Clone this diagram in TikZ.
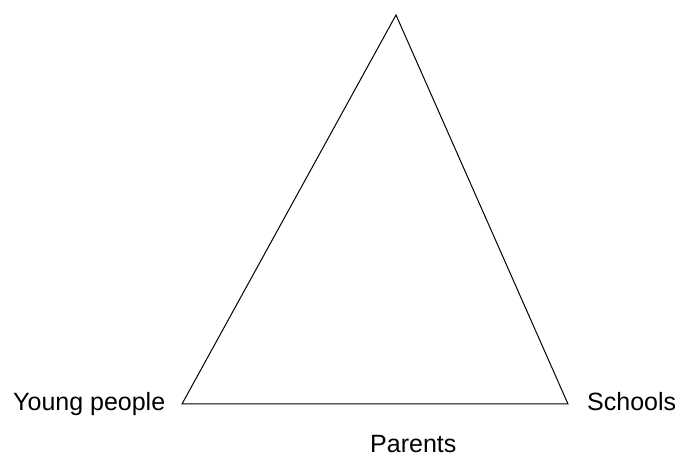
\documentclass[tikz,border=0pt]{standalone}
\usepackage{fontspec}
\setmainfont{Liberation Sans}
\begin{document}
\begin{tikzpicture}[x=1pt,y=-1pt,
  lbl/.style={inner sep=0pt,anchor=base west,font=\fontsize{25}{30}\selectfont},
  edge/.style={line width=1pt,line join=miter}]
\useasboundingbox[fill=white] (0,0) rectangle (681,457);
\coordinate (top) at (396,15);
\coordinate (yp) at (182,404);
\coordinate (sc) at (568,404);
\draw[edge] (top) -- (yp) -- (sc) -- cycle;
\node[lbl] (ypl) at (13,411) {Young people};
\node[lbl] (scl) at (587,410) {Schools};
\node[lbl] (pal) at (370,453) {Parents};
\end{tikzpicture}
\end{document}
